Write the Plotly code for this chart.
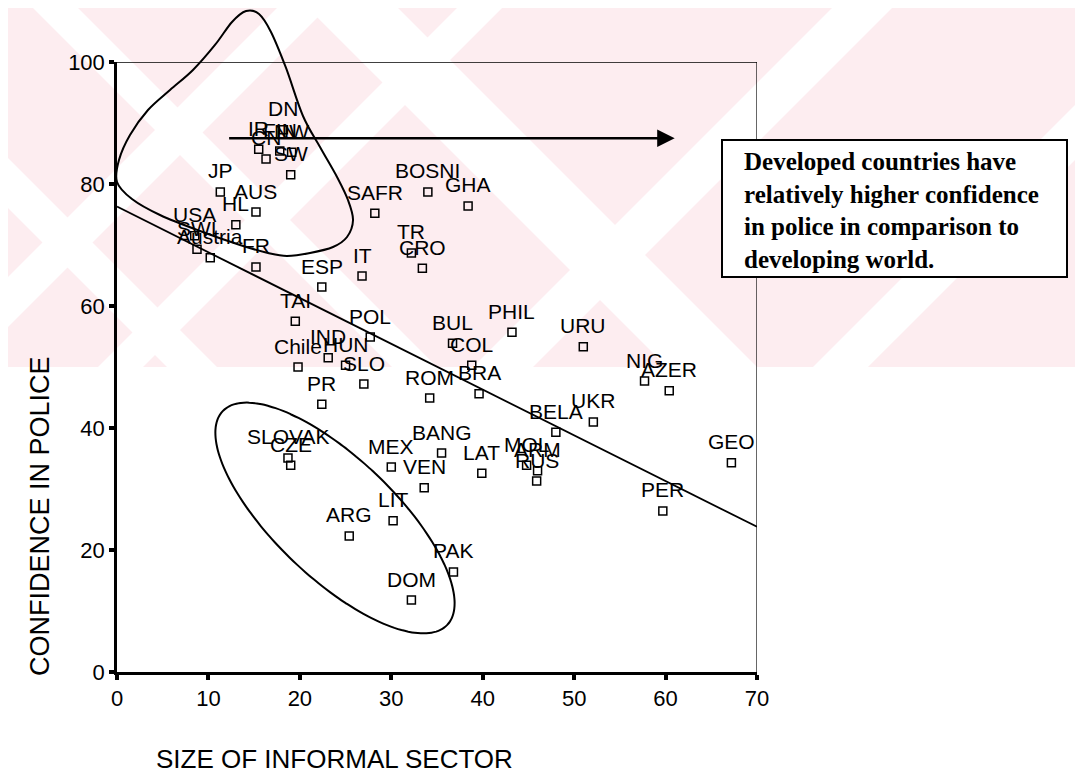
import numpy as np
import plotly.graph_objects as go

# ---------------- data ----------------
countries = ["DN", "IR", "FIN", "NW", "CN", "SW", "JP", "AUS", "HL", "USA", "SWI", "Austria",
             "FR", "ESP", "IT", "SAFR", "BOSNI", "GHA", "TR", "CRO", "TAI", "POL", "IND", "HUN",
             "Chile", "SLO", "PR", "ROM", "BUL", "COL", "BRA", "PHIL", "URU", "NIG", "AZER",
             "UKR", "BELA", "MOL", "ARM", "RUS", "LAT", "BANG", "MEX", "VEN", "LIT", "ARG",
             "PAK", "DOM", "SLOVAK", "CZE", "GEO", "PER"]
informal = [18.2, 15.5, 17.8, 19.1, 16.3, 19.0, 11.3, 15.2, 13.0, 8.5, 8.75, 10.2,
            15.2, 22.4, 26.8, 28.2, 34.0, 38.4, 32.2, 33.4, 19.5, 27.7, 23.1, 25.0,
            19.8, 27.0, 22.4, 34.2, 36.7, 38.8, 39.6, 43.2, 51.0, 57.7, 60.4,
            52.1, 48.0, 44.8, 46.0, 45.9, 39.9, 35.5, 30.0, 33.6, 30.2, 25.4,
            36.8, 32.2, 18.7, 19.0, 67.2, 59.7]
confidence = [88.9, 85.7, 85.4, 85.2, 84.1, 81.5, 78.7, 75.4, 73.3, 71.5, 69.3, 67.9,
              66.4, 63.1, 64.9, 75.2, 78.7, 76.4, 68.7, 66.2, 57.5, 54.9, 51.5, 50.3,
              50.0, 47.2, 43.9, 44.9, 53.9, 50.3, 45.6, 55.7, 53.3, 47.7, 46.1,
              41.0, 39.3, 33.9, 33.0, 31.3, 32.6, 35.9, 33.6, 30.2, 24.8, 22.3,
              16.4, 11.8, 35.1, 33.9, 34.3, 26.4]
fit_x = [0, 70]
fit_y = [76.3, 23.8]
arrow_x = [12.1, 61.0]
arrow_y = [87.5, 87.5]
x_ticks = [0, 10, 20, 30, 40, 50, 60, 70]
y_ticks = [0, 20, 40, 60, 80, 100]
note_text = ("<b>Developed countries have<br>relatively higher confidence<br>"
             "in police in comparison to<br>developing world.</b>")

# ---------------- geometry ----------------
OFF = 8                      # default page margin around the plot div
W, H = 1083 - OFF, 777 - OFF
L, R, T, B = 117, 757, 62, 672   # plot area in page pixels


def pp(px, py):
    """page pixel -> paper coordinates"""
    return (px - L) / (R - L), (B - py) / (B - T)


def closed_spline(points):
    pts = [pp(*p) for p in points]
    n = len(pts)
    d = "M {:.4f},{:.4f} ".format(*pts[0])
    for i in range(n):
        p0 = np.array(pts[(i - 1) % n]); p1 = np.array(pts[i])
        p2 = np.array(pts[(i + 1) % n]); p3 = np.array(pts[(i + 2) % n])
        c1 = p1 + (p2 - p0) / 6.0
        c2 = p2 - (p3 - p1) / 6.0
        d += "C {:.4f},{:.4f} {:.4f},{:.4f} {:.4f},{:.4f} ".format(*c1, *c2, *p2)
    return d + "Z"


def polygon(points):
    pts = [pp(*p) for p in points]
    return "M " + " L ".join("{:.4f},{:.4f}".format(*p) for p in pts) + " Z"


shapes = []
# watermark background
pink = "#fdedf0"
shapes.append(dict(type="path", xref="paper", yref="paper", layer="below",
                   path=polygon([(0, 0), (1083, 0), (1083, 367), (0, 367)]),
                   fillcolor=pink, line=dict(width=0)))
for s1, s2 in [(285, 335), (465, 510), (840, 900), (1180, 1235)]:
    shapes.append(dict(type="path", xref="paper", yref="paper", layer="below",
                       path=polygon([(s1, 0), (s2, 0), (s2 - 367, 367), (s1 - 367, 367)]),
                       fillcolor="white", line=dict(width=0)))
for d1, d2 in [(-390, -300), (-70, -25), (150, 200)]:
    shapes.append(dict(type="path", xref="paper", yref="paper", layer="below",
                       path=polygon([(-d1, 0), (-d2, 0), (367 - d2, 367), (367 - d1, 367)]),
                       fillcolor="white", line=dict(width=0)))

# top blob (developed countries)
blob = [(117, 182), (119, 160), (130, 135), (148, 110), (170, 90), (193, 70), (215, 45),
        (232, 22), (246, 11), (259, 14), (271, 32), (286, 68), (303, 116), (320, 147),
        (337, 177), (348, 200), (353, 220), (347, 237), (333, 247), (310, 253), (287, 256),
        (268, 253), (240, 245), (200, 231), (160, 215), (132, 199)]
shapes.append(dict(type="path", xref="paper", yref="paper", path=closed_spline(blob),
                   line=dict(color="black", width=2)))

# lower ellipse (developing countries)
t = np.linspace(0, 2 * np.pi, 90, endpoint=False)
ang = np.deg2rad(43.6)
cx, cy, a, b = 335, 518, 155, 60
ex = cx + a * np.cos(t) * np.cos(ang) - b * np.sin(t) * np.sin(ang)
ey = cy + a * np.cos(t) * np.sin(ang) + b * np.sin(t) * np.cos(ang)
shapes.append(dict(type="path", xref="paper", yref="paper",
                   path=closed_spline(list(zip(ex, ey))),
                   line=dict(color="black", width=2)))

# frame top / right
shapes.append(dict(type="line", xref="x", yref="y", x0=0, x1=70, y0=100, y1=100,
                   line=dict(color="black", width=1.5)))
shapes.append(dict(type="line", xref="x", yref="y", x0=70, x1=70, y0=0, y1=100,
                   line=dict(color="black", width=1.2)))

# note box
bx0, by0 = pp(722, 140)
bx1, by1 = pp(1067, 277)
shapes.append(dict(type="rect", xref="paper", yref="paper", x0=bx0, y0=by0, x1=bx1, y1=by1,
                   fillcolor="white", line=dict(color="black", width=2)))

fig = go.Figure()
fig.add_trace(go.Scatter(x=fit_x, y=fit_y, mode="lines",
                         line=dict(color="black", width=1.8), hoverinfo="skip"))
fig.add_trace(go.Scatter(x=informal, y=confidence, mode="markers", text=countries,
                         marker=dict(symbol="square-open", size=8, color="black",
                                     line=dict(width=1.5))))

sans = "Arial, Liberation Sans, sans-serif"
label_font = dict(family=sans, size=21, color="black")
annotations = []
for c, xv, yv in zip(countries, informal, confidence):
    annotations.append(dict(x=xv, y=yv, xref="x", yref="y", text=c, showarrow=False,
                            xanchor="center", yanchor="middle", yshift=21, font=label_font))

# arrow
annotations.append(dict(x=arrow_x[1], y=arrow_y[1], ax=arrow_x[0], ay=arrow_y[0],
                        xref="x", yref="y", axref="x", ayref="y", text="",
                        showarrow=True, arrowhead=2, arrowsize=1.4, arrowwidth=2.5,
                        arrowcolor="black", standoff=0))

# note text
nx, ny = pp(742, 210)
annotations.append(dict(x=nx, y=ny, xref="paper", yref="paper", xanchor="left",
                        yanchor="middle", align="left", showarrow=False, text=note_text,
                        font=dict(family="Liberation Serif, Times New Roman, serif",
                                  size=25, color="black")))

# axis titles
tx, ty = pp(334, 759)
annotations.append(dict(x=tx, y=ty, xref="paper", yref="paper", showarrow=False,
                        xanchor="center", yanchor="middle",
                        text="SIZE OF INFORMAL SECTOR",
                        font=dict(family=sans, size=26, color="black")))
vx, vy = pp(40, 516)
annotations.append(dict(x=vx, y=vy, xref="paper", yref="paper", showarrow=False,
                        xanchor="center", yanchor="middle",
                        textangle=-90, text="CONFIDENCE IN POLICE",
                        font=dict(family=sans, size=27, color="black")))

tick_font = dict(family=sans, size=22, color="black")
fig.update_layout(
    width=W, height=H, autosize=False,
    margin=dict(l=L - OFF, r=W - (R - OFF), t=T - OFF, b=H - (B - OFF), pad=0),
    paper_bgcolor="white", plot_bgcolor="rgba(0,0,0,0)",
    showlegend=False, shapes=shapes, annotations=annotations,
    xaxis=dict(range=[0, 70], tickvals=x_ticks, ticks="outside", ticklen=5, tickwidth=4,
               tickcolor="black", showline=True, linewidth=2.5, linecolor="black",
               showgrid=False, zeroline=False, tickfont=tick_font),
    yaxis=dict(range=[0, 100], tickvals=y_ticks, ticks="outside", ticklen=5, tickwidth=4,
               tickcolor="black", showline=True, linewidth=2.5, linecolor="black",
               showgrid=False, zeroline=False, tickfont=tick_font),
)

fig.write_html("out.html")
